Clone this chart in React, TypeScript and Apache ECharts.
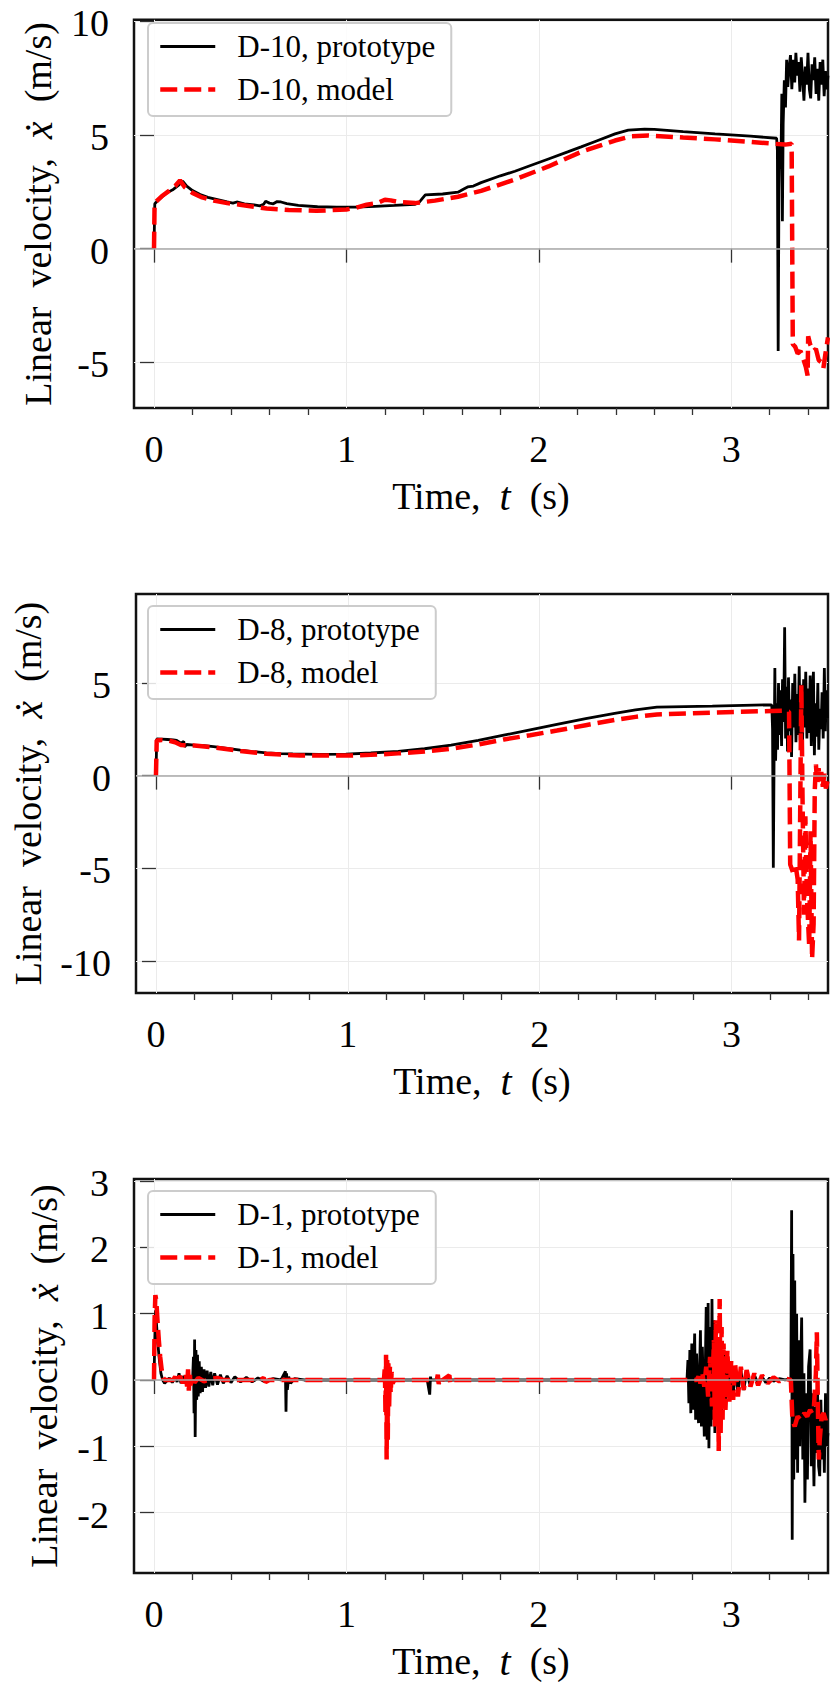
import { useEffect, useRef } from 'react';
import * as echarts from 'echarts';

const FONT = '"Liberation Serif", "Times New Roman", serif';

// tick positions
const xMajorTicks = [0, 1, 2, 3];
const xMinorTicks = [0.2, 0.4, 0.6, 0.8, 1.2, 1.4, 1.6, 1.8, 2.2, 2.4, 2.6, 2.8, 3.2, 3.4];
const yTicksD10 = [-5, 0, 5, 10];
const yTicksD8 = [-10, -5, 0, 5];
const yTicksD1 = [-2, -1, 0, 1, 2, 3];

// D-10 (time s, velocity m/s)
const d10Prototype = [
  [0, 0], [0.004, 1.97], [0.03, 2.2], [0.066, 2.45], [0.1, 2.6], [0.13, 2.8], [0.149, 2.97],
  [0.17, 2.75], [0.2, 2.55], [0.24, 2.38], [0.28, 2.25], [0.33, 2.15], [0.38, 2.05], [0.41, 2.0],
  [0.43, 2.05], [0.47, 1.97], [0.52, 1.92], [0.55, 1.88], [0.57, 1.95], [0.58, 2.08], [0.6, 2.0],
  [0.62, 1.97], [0.64, 2.07], [0.66, 2.05], [0.69, 1.98], [0.75, 1.9], [0.85, 1.84], [0.95, 1.82],
  [1.05, 1.82], [1.15, 1.86], [1.25, 1.9], [1.357, 1.95], [1.38, 2.05], [1.41, 2.36], [1.5, 2.4],
  [1.58, 2.48], [1.61, 2.62], [1.63, 2.71], [1.66, 2.75], [1.7, 2.9], [1.8, 3.2], [1.876, 3.4],
  [1.95, 3.63], [2.05, 3.94], [2.15, 4.25], [2.22, 4.47], [2.3, 4.73], [2.396, 5.04], [2.465, 5.21],
  [2.55, 5.25], [2.6, 5.24], [2.75, 5.14], [2.916, 5.04], [3.1, 4.94], [3.236, 4.85], [3.24, 4.3],
  [3.244, -4.5], [3.248, 2.5], [3.252, 4.6], [3.258, 3.5], [3.263, 6.8], [3.266, 1.2], [3.27, 5.5],
  [3.276, 7.4], [3.282, 6.2], [3.288, 8.3], [3.294, 7.1], [3.3, 7.9], [3.308, 8.5], [3.315, 7.0],
  [3.322, 8.3], [3.33, 7.3], [3.336, 8.6], [3.343, 7.6], [3.35, 8.2], [3.357, 6.9], [3.364, 8.4],
  [3.371, 7.5], [3.378, 6.5], [3.385, 8.0], [3.392, 7.2], [3.399, 8.6], [3.406, 7.0], [3.413, 6.6],
  [3.42, 8.1], [3.427, 7.4], [3.434, 8.4], [3.441, 6.8], [3.448, 7.9], [3.455, 6.5], [3.462, 8.2],
  [3.469, 7.2], [3.476, 8.3], [3.483, 6.7], [3.49, 7.8], [3.497, 7.0], [3.503, 7.6],
];
const d10Model = [
  [0, 0], [0.003, 2.0], [0.04, 2.3], [0.08, 2.55], [0.11, 2.75], [0.135, 3.0], [0.16, 2.7],
  [0.2, 2.45], [0.25, 2.25], [0.31, 2.11], [0.38, 2.0], [0.447, 1.93], [0.52, 1.84], [0.586, 1.76],
  [0.7, 1.7], [0.845, 1.66], [1.0, 1.72], [1.05, 1.8], [1.105, 1.93], [1.16, 2.0], [1.2, 2.15],
  [1.23, 2.12], [1.27, 2.05], [1.357, 2.0], [1.46, 2.11], [1.58, 2.28], [1.7, 2.54], [1.876, 3.04],
  [2.05, 3.61], [2.22, 4.25], [2.396, 4.75], [2.483, 4.94], [2.57, 4.97], [2.75, 4.88], [2.916, 4.8],
  [3.1, 4.69], [3.28, 4.57], [3.314, 4.61], [3.32, -4.2], [3.332, -4.3], [3.345, -4.6], [3.36, -4.5],
  [3.375, -4.85], [3.388, -5.2], [3.397, -5.57], [3.4, -3.85], [3.41, -4.2], [3.427, -4.5],
  [3.44, -4.4], [3.455, -4.9], [3.47, -5.0], [3.479, -5.25], [3.49, -4.6], [3.503, -3.9],
];

// D-8
const d8Prototype = [
  [0, 0], [0.004, 1.98], [0.03, 1.97], [0.06, 1.95], [0.09, 1.93], [0.108, 1.9], [0.13, 1.75],
  [0.145, 1.85], [0.149, 1.55], [0.16, 1.68], [0.2, 1.65], [0.25, 1.62], [0.3, 1.57], [0.37, 1.47],
  [0.44, 1.37], [0.5, 1.3], [0.575, 1.23], [0.65, 1.19], [0.713, 1.17], [0.85, 1.15], [0.99, 1.16],
  [1.12, 1.22], [1.263, 1.31], [1.4, 1.45], [1.538, 1.65], [1.68, 1.9], [1.813, 2.18], [1.95, 2.47],
  [2.09, 2.76], [2.24, 3.07], [2.391, 3.36], [2.5, 3.55], [2.611, 3.7], [2.9, 3.75], [3.203, 3.82],
  [3.21, 3.8], [3.214, 2.5], [3.218, -4.97], [3.222, 1.0], [3.226, 5.8], [3.23, 0.8], [3.235, 3.9],
  [3.24, 1.4], [3.245, 5.0], [3.25, 2.2], [3.256, 4.6], [3.261, 1.6], [3.266, 5.2], [3.272, 2.9],
  [3.277, 8.0], [3.282, 2.0], [3.287, 4.8], [3.292, 1.3], [3.297, 5.3], [3.303, 2.4], [3.308, 4.1],
  [3.313, 1.0], [3.319, 5.0], [3.324, 2.6], [3.33, 5.5], [3.336, 1.8], [3.341, 4.4], [3.347, 2.2],
  [3.353, 5.9], [3.358, 1.9], [3.364, 4.9], [3.37, 1.5], [3.376, 5.2], [3.381, 2.6], [3.387, 5.6],
  [3.393, 2.0], [3.398, 4.7], [3.404, 2.3], [3.41, 5.4], [3.416, 1.6], [3.421, 4.3], [3.427, 5.6],
  [3.432, 1.1], [3.438, 3.9], [3.444, 2.1], [3.45, 5.0], [3.455, 1.4], [3.461, 3.6], [3.467, 2.5],
  [3.472, 4.5], [3.478, 2.0], [3.484, 5.8], [3.489, 2.4], [3.495, 4.6], [3.5, 3.1],
];
const d8Model = [
  [0, 0], [0.004, 1.9], [0.03, 1.92], [0.07, 1.88], [0.1, 1.8], [0.13, 1.65], [0.16, 1.63],
  [0.2, 1.63], [0.3, 1.52], [0.44, 1.33], [0.575, 1.18], [0.75, 1.08], [0.99, 1.08], [1.12, 1.12],
  [1.263, 1.2], [1.4, 1.3], [1.54, 1.45], [1.68, 1.68], [1.813, 1.95], [1.95, 2.18], [2.09, 2.43],
  [2.24, 2.72], [2.391, 3.0], [2.5, 3.17], [2.611, 3.3], [2.9, 3.4], [3.21, 3.49], [3.279, 3.5],
  [3.3, 3.45], [3.306, -4.8], [3.32, -5.2], [3.335, -4.9], [3.345, -5.6], [3.352, -8.9],
  [3.358, -2.0], [3.364, 4.9], [3.37, -1.0], [3.378, -7.5], [3.385, -2.2], [3.393, -6.5],
  [3.405, -9.2], [3.412, -3.0], [3.42, -9.9], [3.428, -8.0], [3.434, -0.8], [3.44, 0.6],
  [3.447, -0.5], [3.454, 0.4], [3.46, -0.3], [3.468, 0.2], [3.476, -0.6], [3.484, 0.1],
  [3.492, -0.7], [3.5, -0.3],
];

// D-1
const d1Prototype = [
  [0, 0], [0.004, 0.6], [0.008, 1.05], [0.014, 0.8], [0.02, 0.55], [0.028, 0.3], [0.036, 0.1],
  [0.045, 0.0], [0.055, -0.05], [0.065, -0.02], [0.08, 0.03], [0.095, -0.04], [0.11, 0.04],
  [0.12, -0.03], [0.13, 0.1], [0.14, -0.05], [0.155, 0.06], [0.17, -0.06], [0.185, 0.05],
  [0.2, -0.04], [0.205, 0.35], [0.208, -0.5], [0.211, 0.61], [0.214, -0.86], [0.218, 0.45],
  [0.222, -0.3], [0.226, 0.38], [0.23, -0.25], [0.235, 0.28], [0.24, -0.2], [0.246, 0.2],
  [0.252, -0.18], [0.26, 0.16], [0.268, -0.12], [0.276, 0.14], [0.285, -0.1], [0.295, 0.12],
  [0.305, -0.08], [0.315, 0.1], [0.33, -0.07], [0.345, 0.08], [0.36, -0.05], [0.38, 0.06],
  [0.4, -0.04], [0.42, 0.05], [0.45, -0.03], [0.48, 0.04], [0.51, -0.03], [0.54, 0.03],
  [0.57, -0.02], [0.62, 0.02], [0.66, 0.0], [0.683, 0.13], [0.686, -0.48], [0.689, 0.1],
  [0.693, -0.15], [0.7, 0.05], [0.71, -0.05], [0.73, 0.02], [0.78, 0], [1.42, 0], [1.433, -0.22],
  [1.437, 0.05], [1.44, 0], [2.77, 0], [2.775, 0.3], [2.78, -0.35], [2.785, 0.45], [2.79, -0.5],
  [2.795, 0.55], [2.8, -0.45], [2.81, 0.7], [2.815, -0.6], [2.82, 0.4], [2.83, -0.65], [2.84, 0.75],
  [2.845, -0.7], [2.85, 0.5], [2.86, -0.85], [2.87, 1.1], [2.875, -0.9], [2.88, 1.16], [2.884, -1.03],
  [2.89, 0.8], [2.895, -0.7], [2.9, 1.22], [2.905, -0.6], [2.91, 0.9], [2.915, -0.8], [2.92, 0.6],
  [2.93, -0.5], [2.94, 0.5], [2.95, -0.45], [2.96, 0.4], [2.97, -0.35], [2.98, 0.3], [2.99, -0.3],
  [3.0, 0.25], [3.01, -0.28], [3.02, 0.2], [3.035, -0.2], [3.05, 0.15], [3.065, -0.15], [3.08, 0.12],
  [3.1, -0.1], [3.12, 0.08], [3.14, -0.06], [3.16, 0.05], [3.18, -0.04], [3.2, 0.03], [3.22, -0.02],
  [3.25, 0.02], [3.28, 0.0], [3.31, 0.02], [3.314, 2.56], [3.317, -2.41], [3.321, 1.9], [3.325, -1.5],
  [3.33, 1.5], [3.335, -1.2], [3.34, 1.0], [3.345, -1.4], [3.35, 0.6], [3.356, -1.0], [3.362, 0.3],
  [3.366, 0.94], [3.372, -1.2], [3.378, 0.1], [3.383, -1.85], [3.39, -0.2], [3.396, -1.5],
  [3.402, 0.2], [3.41, 0.46], [3.416, -1.3], [3.422, -0.2], [3.43, -1.6], [3.436, -0.4],
  [3.442, -1.1], [3.448, 0.0], [3.454, -1.3], [3.46, -1.45], [3.466, -0.3], [3.472, -1.2],
  [3.478, -0.5], [3.484, -1.4], [3.49, -0.2], [3.496, -1.0], [3.503, -0.8],
];
const d1Model = [
  [0, 0], [0.003, 0.9], [0.007, 1.28], [0.012, 1.2], [0.018, 0.9], [0.025, 0.6], [0.032, 0.35],
  [0.04, 0.15], [0.048, 0.03], [0.056, 0], [0.1, 0], [0.11, 0.05], [0.12, -0.04], [0.135, 0.06],
  [0.15, -0.05], [0.165, 0.1], [0.172, -0.1], [0.177, 0.16], [0.181, -0.16], [0.186, 0.12],
  [0.19, -0.08], [0.2, 0.05], [0.21, -0.04], [0.23, 0.03], [0.26, -0.02], [0.3, 0.02], [0.33, 0.03],
  [0.36, 0], [0.55, 0], [0.57, 0.03], [0.58, -0.03], [0.6, 0], [1.195, 0], [1.2, 0.2], [1.203, -0.5],
  [1.206, 0.38], [1.209, -1.2], [1.212, 0.3], [1.215, -0.9], [1.218, 0.25], [1.222, -0.4],
  [1.226, 0.2], [1.23, -0.2], [1.235, 0.12], [1.24, -0.05], [1.25, 0], [1.47, 0], [1.475, 0.08],
  [1.48, -0.06], [1.49, 0.04], [1.5, 0], [1.535, 0.07], [1.54, -0.05], [1.55, 0], [2.82, 0],
  [2.83, 0.05], [2.84, -0.05], [2.85, 0.1], [2.86, -0.1], [2.87, 0.2], [2.88, -0.25], [2.89, 0.35],
  [2.9, -0.4], [2.91, 0.6], [2.915, -0.7], [2.92, 0.9], [2.925, -0.5], [2.93, 0.5], [2.935, -1.07],
  [2.94, 1.22], [2.945, -0.8], [2.95, 0.8], [2.955, -0.6], [2.96, 0.55], [2.97, -0.45], [2.98, 0.45],
  [2.99, -0.35], [3.0, 0.3], [3.01, -0.3], [3.02, 0.25], [3.035, -0.25], [3.05, 0.2], [3.065, -0.15],
  [3.08, 0.15], [3.1, -0.1], [3.12, 0.1], [3.14, -0.08], [3.16, 0.07], [3.19, -0.05], [3.22, 0.04],
  [3.25, -0.02], [3.28, 0.02], [3.31, 0], [3.318, -0.6], [3.33, -0.7], [3.345, -0.55], [3.36, -0.6],
  [3.38, -0.5], [3.395, -0.55], [3.41, -0.45], [3.42, -0.5], [3.43, -0.4], [3.44, 0.1], [3.445, 0.72],
  [3.45, -0.3], [3.455, -1.2], [3.46, -0.9], [3.47, -0.55], [3.48, -0.5], [3.49, -0.6], [3.503, -0.5],
];

const panels = [
  { top: 11, height: 397, yMin: -7, yMax: 10.05, yTicks: yTicksD10, proto: d10Prototype, model: d10Model, label: 'D-10', nameGap: 76 },
  { top: 594, height: 399, yMin: -11.73, yMax: 9.8, yTicks: yTicksD8, proto: d8Prototype, model: d8Model, label: 'D-8', nameGap: 88 },
  { top: 1179, height: 399, yMin: -2.91, yMax: 3.03, yTicks: yTicksD1, proto: d1Prototype, model: d1Model, label: 'D-1', nameGap: 70 },
];

const X_MIN = -0.104;
const X_MAX = 3.503;

const protoLine = { color: '#000', width: 2.8 };
const modelLine = { color: '#ff0000', width: 4.5, type: [17, 7] };

const nameRich = {
  n: { fontFamily: FONT, fontSize: 38, color: '#000' },
  i: { fontFamily: FONT, fontSize: 40, fontStyle: 'italic', color: '#000' },
};

export default function App() {
  const chartRef = useRef<HTMLDivElement>(null);

  useEffect(() => {
    if (!chartRef.current) return;
    const instance = echarts.init(chartRef.current, undefined, { renderer: 'svg' });

    const tickLine = { color: '#333', width: 1.3 };
    const labelStyle = { fontFamily: FONT, fontSize: 38, color: '#000' };
    const tickRich = { v: { fontFamily: FONT, fontSize: 38, color: '#000' } };
    const tickFormatter = (v: number) => `{v|${v}}`;

    const option = {
      animation: false,
      backgroundColor: '#fff',
      textStyle: { fontFamily: FONT },
      grid: panels.map((p) => ({
        left: 134,
        top: p.top,
        width: 694,
        height: p.height,
        show: true,
        borderColor: '#111',
        borderWidth: 2.5,
        backgroundColor: 'transparent',
      })),
      xAxis: [
        ...panels.map((p, i) => ({
          type: 'value',
          gridIndex: i,
          min: X_MIN,
          max: X_MAX,
          position: 'bottom',
          axisLine: { show: false },
          axisTick: { show: true, length: 14, customValues: xMajorTicks, lineStyle: tickLine },
          axisLabel: { customValues: xMajorTicks, margin: 22, ...labelStyle, formatter: tickFormatter, rich: tickRich },
          splitLine: { show: true, lineStyle: { color: '#ebebeb', width: 1 } },
          name: '{n|Time,\u00a0 }{i|t}{n|\u00a0 (s)}',
          nameLocation: 'middle',
          nameGap: 68,
          nameTextStyle: { ...labelStyle, rich: nameRich },
        })),
        ...panels.map((p, i) => ({
          type: 'value',
          gridIndex: i,
          min: X_MIN,
          max: X_MAX,
          position: 'bottom',
          axisLine: { show: false },
          axisTick: { show: true, length: 7, customValues: xMinorTicks, lineStyle: tickLine },
          axisLabel: { show: false },
          splitLine: { show: false },
        })),
      ],
      yAxis: panels.map((p, i) => ({
        type: 'value',
        gridIndex: i,
        min: p.yMin,
        max: p.yMax,
        axisLine: { show: false },
        axisTick: { show: true, length: 14, customValues: p.yTicks, lineStyle: tickLine },
        axisLabel: {
          customValues: p.yTicks,
          margin: 25,
          ...labelStyle,
          formatter: tickFormatter,
          rich: { v: { ...tickRich.v, padding: [4, 0, 0, 0], lineHeight: 26 } },
        },
        splitLine: { show: true, lineStyle: { color: '#ebebeb', width: 1 } },
        name: '{n|Linear\u00a0 velocity,\u00a0 }{i|ẋ}{n|\u00a0 (m/s)}',
        nameLocation: 'middle',
        nameRotate: 90,
        nameGap: p.nameGap,
        nameTextStyle: { ...labelStyle, rich: nameRich },
      })),
      legend: panels.map((p) => ({
        data: [
          { name: `${p.label}, prototype`, lineStyle: protoLine },
          { name: `${p.label}, model`, lineStyle: modelLine },
        ],
        orient: 'vertical',
        left: 148,
        top: p.top + 12,
        itemWidth: 55,
        itemHeight: 28,
        itemGap: 12,
        padding: [8, 16, 11, 10],
        backgroundColor: 'rgba(255,255,255,0.85)',
        borderColor: '#cccccc',
        borderWidth: 2,
        borderRadius: 5,
        selectedMode: false,
        itemStyle: { opacity: 0 },
        textStyle: { fontFamily: FONT, fontSize: 31, color: '#000', padding: [0, 0, 0, 17] },
      })),
      series: panels.flatMap((p, i) => [
        {
          name: `${p.label}, prototype`,
          type: 'line',
          xAxisIndex: i,
          yAxisIndex: i,
          data: p.proto,
          symbol: 'none',
          showSymbol: false,
          color: '#000',
          lineStyle: protoLine,
          z: 3,
          markLine: {
            silent: true,
            symbol: 'none',
            label: { show: false },
            lineStyle: { color: '#a8a8a8', width: 1.5, type: 'solid' },
            data: [{ yAxis: 0 }],
          },
        },
        {
          name: `${p.label}, model`,
          type: 'line',
          xAxisIndex: i,
          yAxisIndex: i,
          data: p.model,
          symbol: 'none',
          showSymbol: false,
          color: '#ff0000',
          lineStyle: modelLine,
          z: 4,
        },
      ]),
    };

    instance.setOption(option);

    return () => {
      instance.dispose();
    };
  }, []);

  return (
    <div
      ref={chartRef}
      style={{ position: 'absolute', left: 0, top: 0, width: 830, height: 1682 }}
    />
  );
}
